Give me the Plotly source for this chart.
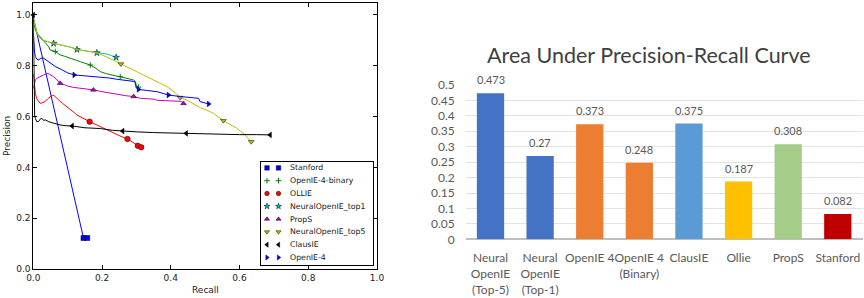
import plotly.graph_objects as go

# ---------------- Left panel data (precision-recall curves) ----------------
stanford_r = [0.0, 0.146, 0.157]
stanford_p = [0.99, 0.122, 0.122]
stanford_marks = [0.146, 0.157]

binary_r = [0.0, 0.003, 0.006, 0.011, 0.016, 0.02, 0.03, 0.04, 0.045, 0.049, 0.056, 0.064, 0.07, 0.078,
            0.09, 0.107, 0.12, 0.137, 0.15, 0.166, 0.18, 0.195, 0.21, 0.224, 0.24, 0.253, 0.27, 0.282,
            0.292, 0.297, 0.3, 0.306]
binary_p = [0.98, 0.95, 0.94, 0.928, 0.92, 0.912, 0.9, 0.882, 0.875, 0.862, 0.86, 0.856, 0.85, 0.843,
            0.838, 0.829, 0.824, 0.816, 0.81, 0.803, 0.792, 0.777, 0.77, 0.764, 0.76, 0.757, 0.752, 0.746,
            0.744, 0.738, 0.72, 0.716]
binary_marks = [0.064, 0.166, 0.253, 0.306]

ollie_r = [0.0, 0.002, 0.004, 0.006, 0.01, 0.015, 0.02, 0.028, 0.035, 0.042, 0.049, 0.055, 0.06, 0.067,
           0.074, 0.085, 0.098, 0.11, 0.12, 0.127, 0.14, 0.152, 0.164, 0.18, 0.195, 0.21, 0.224, 0.24,
           0.255, 0.274, 0.285, 0.295, 0.304, 0.31, 0.314]
ollie_p = [0.77, 0.74, 0.71, 0.692, 0.67, 0.66, 0.652, 0.655, 0.66, 0.67, 0.678, 0.684, 0.683, 0.672,
           0.665, 0.652, 0.639, 0.625, 0.615, 0.606, 0.598, 0.59, 0.58, 0.57, 0.56, 0.55, 0.541, 0.532,
           0.522, 0.512, 0.502, 0.492, 0.485, 0.481, 0.479]
ollie_marks = [0.164, 0.274, 0.304, 0.314]

top1_r = [0.0, 0.003, 0.006, 0.009, 0.011, 0.016, 0.02, 0.025, 0.03, 0.04, 0.05, 0.059, 0.08, 0.098,
          0.112, 0.127, 0.145, 0.165, 0.185, 0.2, 0.215, 0.228, 0.241]
top1_p = [0.99, 0.97, 0.96, 0.94, 0.928, 0.915, 0.908, 0.902, 0.9, 0.895, 0.891, 0.888, 0.882, 0.877,
          0.872, 0.864, 0.86, 0.855, 0.851, 0.849, 0.846, 0.84, 0.833]
top1_marks = [0.059, 0.127, 0.185, 0.241]

props_r = [0.0, 0.003, 0.006, 0.011, 0.02, 0.03, 0.04, 0.048, 0.059, 0.068, 0.078, 0.09, 0.1, 0.117,
           0.135, 0.155, 0.175, 0.2, 0.224, 0.25, 0.27, 0.292, 0.311, 0.335, 0.355, 0.36, 0.389, 0.41,
           0.432, 0.437]
props_p = [0.71, 0.73, 0.745, 0.751, 0.758, 0.764, 0.77, 0.766, 0.757, 0.745, 0.731, 0.726, 0.72, 0.715,
           0.712, 0.708, 0.705, 0.698, 0.692, 0.688, 0.682, 0.679, 0.672, 0.67, 0.668, 0.664, 0.663, 0.662,
           0.66, 0.652]
props_marks = [0.078, 0.175, 0.292, 0.437]

top5_r = [0.0, 0.003, 0.006, 0.009, 0.011, 0.016, 0.02, 0.025, 0.03, 0.04, 0.05, 0.059, 0.08, 0.098,
          0.112, 0.127, 0.145, 0.165, 0.185, 0.205, 0.224, 0.24, 0.255, 0.275, 0.292, 0.315, 0.34, 0.365,
          0.389, 0.41, 0.427, 0.447, 0.465, 0.486, 0.505, 0.524, 0.553, 0.575, 0.592, 0.605, 0.616, 0.625,
          0.634]
top5_p = [0.99, 0.97, 0.96, 0.94, 0.928, 0.915, 0.908, 0.902, 0.9, 0.895, 0.891, 0.888, 0.882, 0.877,
          0.872, 0.864, 0.86, 0.855, 0.851, 0.84, 0.829, 0.818, 0.807, 0.795, 0.783, 0.767, 0.751, 0.735,
          0.718, 0.697, 0.675, 0.665, 0.65, 0.635, 0.625, 0.613, 0.584, 0.568, 0.554, 0.54, 0.528, 0.513,
          0.501]
top5_marks = [0.255, 0.427, 0.553, 0.634]

clausie_r = [0.0, 0.001, 0.002, 0.004, 0.006, 0.01, 0.015, 0.02, 0.025, 0.03, 0.035, 0.04, 0.045, 0.052,
             0.059, 0.068, 0.078, 0.095, 0.113, 0.15, 0.195, 0.23, 0.26, 0.3, 0.35, 0.4, 0.445, 0.5, 0.55,
             0.6, 0.65, 0.689]
clausie_p = [1.0, 0.8, 0.65, 0.6, 0.593, 0.58, 0.58, 0.59, 0.593, 0.585, 0.587, 0.582, 0.58, 0.577,
             0.574, 0.57, 0.567, 0.564, 0.563, 0.556, 0.553, 0.546, 0.543, 0.54, 0.537, 0.535, 0.534, 0.531,
             0.53, 0.529, 0.529, 0.528]
clausie_marks = [0.0, 0.113, 0.26, 0.445, 0.689]

openie4_r = [0.0, 0.002, 0.004, 0.006, 0.01, 0.016, 0.022, 0.03, 0.04, 0.049, 0.056, 0.064, 0.078, 0.09,
             0.1, 0.119, 0.14, 0.156, 0.175, 0.195, 0.22, 0.243, 0.265, 0.282, 0.295, 0.3, 0.306, 0.33,
             0.36, 0.38, 0.393, 0.427, 0.46, 0.481, 0.485, 0.51]
openie4_p = [0.93, 0.88, 0.85, 0.836, 0.826, 0.823, 0.83, 0.83, 0.82, 0.81, 0.806, 0.797, 0.788, 0.778,
             0.772, 0.764, 0.762, 0.76, 0.758, 0.757, 0.752, 0.747, 0.742, 0.74, 0.738, 0.712, 0.707, 0.703,
             0.698, 0.69, 0.685, 0.679, 0.676, 0.672, 0.659, 0.65]
openie4_marks = [0.119, 0.306, 0.393, 0.51]

pr_ticks = [0.0, 0.2, 0.4, 0.6, 0.8, 1.0]
pr_tick_labels = ["0.0", "0.2", "0.4", "0.6", "0.8", "1.0"]

# ---------------- Right panel data (AUC bars) ----------------
systems = ["Neural<br>OpenIE<br>(Top-5)", "Neural<br>OpenIE<br>(Top-1)", "OpenIE 4",
           "OpenIE 4<br>(Binary)", "ClausIE", "Ollie", "PropS", "Stanford"]
auc = [0.473, 0.27, 0.373, 0.248, 0.375, 0.187, 0.308, 0.082]
auc_labels = ["0.473", "0.27", "0.373", "0.248", "0.375", "0.187", "0.308", "0.082"]
auc_ticks = [0, 0.05, 0.1, 0.15, 0.2, 0.25, 0.3, 0.35, 0.4, 0.45, 0.5]
auc_tick_labels = ["0", "0.05", "0.1", "0.15", "0.2", "0.25", "0.3", "0.35", "0.4", "0.45", "0.5"]

# ---------------- styling ----------------
W, H = 864, 298
MPL_FONT = "DejaVu Sans"
XL_FONT = "Lato"

series = [
    ("Stanford", stanford_r, stanford_p, stanford_marks, "#0000ff", "square", 5),
    ("OpenIE-4-binary", binary_r, binary_p, binary_marks, "#008000", "cross-thin", 4),
    ("OLLIE", ollie_r, ollie_p, ollie_marks, "#ff0000", "circle", 5.5),
    ("NeuralOpenIE_top1", top1_r, top1_p, top1_marks, "#00bfbf", "star", 5),
    ("PropS", props_r, props_p, props_marks, "#bf00bf", "triangle-up", 5),
    ("NeuralOpenIE_top5", top5_r, top5_p, top5_marks, "#bfbf00", "triangle-down", 5),
    ("ClausIE", clausie_r, clausie_p, clausie_marks, "#000000", "triangle-left", 5),
    ("OpenIE-4", openie4_r, openie4_p, openie4_marks, "#0000ff", "triangle-right", 5),
]


def px_x(p):
    return p / W


def px_y(p):
    return (H - p) / H


fig = go.Figure()

for name, r, p, marks, color, sym, size in series:
    fig.add_trace(go.Scatter(x=r, y=p, mode="lines", line=dict(color=color, width=1),
                             xaxis="x", yaxis="y", hoverinfo="skip", name=name))
    idx = [r.index(v) for v in marks]
    if sym == "cross-thin":
        mk = dict(symbol=sym, size=size, color=color, line=dict(color=color, width=1))
    else:
        mk = dict(symbol=sym, size=size, color=color, line=dict(color="black", width=0.5))
    fig.add_trace(go.Scatter(x=[r[i] for i in idx], y=[p[i] for i in idx], mode="markers",
                             marker=mk, xaxis="x", yaxis="y", name=name, cliponaxis=False))

# custom matplotlib-like legend (two markers per entry)
ROW0, ROWH = 5.9, 12.8
annotations = []
for i, (name, r, p, marks, color, sym, size) in enumerate(series):
    yy = ROW0 + ROWH * i
    if sym == "cross-thin":
        mk = dict(symbol=sym, size=4, color=color, line=dict(color=color, width=1))
    else:
        mk = dict(symbol=sym, size=4.5, color=color, line=dict(color="black", width=0.5))
    fig.add_trace(go.Scatter(x=[6, 17.5], y=[yy, yy], mode="markers", marker=mk,
                             xaxis="x3", yaxis="y3", hoverinfo="skip"))
    annotations.append(dict(x=27, y=yy, xref="x3", yref="y3", text=name, showarrow=False,
                            xanchor="left", yanchor="middle",
                            font=dict(family=MPL_FONT, size=7.8, color="#222")))

# bar chart
bar_colors = ["#4472C4", "#4472C4", "#ED7D31", "#ED7D31", "#5B9BD5", "#FFC000", "#A5CD87", "#C00000"]
fig.add_trace(go.Bar(x=systems, y=auc, marker=dict(color=bar_colors, line=dict(width=0)),
                     xaxis="x2", yaxis="y2", width=0.55, hoverinfo="skip"))
for s, v, lab in zip(systems, auc, auc_labels):
    annotations.append(dict(x=s, y=v, xref="x2", yref="y2", text=lab, showarrow=False,
                            yanchor="bottom", yshift=5,
                            font=dict(family=XL_FONT, size=11, color="#595959")))

annotations += [
    dict(x=px_x(649), y=px_y(55), xref="paper", yref="paper", text="Area Under Precision-Recall Curve",
         showarrow=False, xanchor="center", yanchor="middle",
         font=dict(family=XL_FONT, size=21.5, color="#404040")),
    dict(x=px_x(205), y=px_y(290), xref="paper", yref="paper", text="Recall", showarrow=False,
         xanchor="center", yanchor="middle", font=dict(family=MPL_FONT, size=9, color="#222")),
    dict(x=px_x(7), y=px_y(136), xref="paper", yref="paper", text="Precision", showarrow=False,
         xanchor="center", yanchor="middle", textangle=-90,
         font=dict(family=MPL_FONT, size=9, color="#222")),
]

mpl_axis = dict(showline=True, linecolor="black", linewidth=1, mirror="ticks", ticks="inside",
                ticklen=4, tickcolor="black", tickwidth=1, showgrid=False, zeroline=False,
                automargin=False, tickfont=dict(family=MPL_FONT, size=9, color="#222"))

fig.update_layout(
    width=W, height=H, margin=dict(l=0, r=0, t=0, b=0, pad=0, autoexpand=False),
    paper_bgcolor="white", plot_bgcolor="white", showlegend=False,
    xaxis=dict(domain=[px_x(33.3), px_x(377)], range=[0, 1], anchor="y",
               tickvals=pr_ticks, ticktext=pr_tick_labels, **mpl_axis),
    yaxis=dict(domain=[px_y(269), px_y(3.3)], range=[0, 1.046], anchor="x",
               tickvals=pr_ticks, ticktext=pr_tick_labels, **mpl_axis),
    xaxis2=dict(domain=[px_x(465.7), px_x(862.6)], anchor="y2", showline=False, ticks="",
                showgrid=False, tickangle=0, automargin=False, ticklabelstandoff=10,
                tickfont=dict(family=XL_FONT, size=12, color="#595959")),
    yaxis2=dict(domain=[px_y(239.3), px_y(85)], anchor="x2", range=[0, 0.5],
                tickvals=auc_ticks, ticktext=auc_tick_labels, showgrid=True, gridcolor="#E3E3E3",
                gridwidth=1, zeroline=True, zerolinecolor="#BFBFBF", zerolinewidth=1.5, showline=False,
                ticks="", ticklabelstandoff=10, automargin=False,
                tickfont=dict(family=XL_FONT, size=12, color="#595959")),
    xaxis3=dict(domain=[px_x(261), px_x(373)], range=[0, 112], anchor="y3", showline=True,
                linecolor="black", linewidth=1, mirror=True, showticklabels=False, ticks="",
                showgrid=False, zeroline=False, fixedrange=True, automargin=False),
    yaxis3=dict(domain=[px_y(265), px_y(162)], range=[103, 0], anchor="x3", showline=True,
                linecolor="black", linewidth=1, mirror=True, showticklabels=False, ticks="",
                showgrid=False, zeroline=False, fixedrange=True, automargin=False),
    annotations=annotations,
)

fig.write_html("out.html", config={"displayModeBar": False},
               post_script="document.body.style.margin='0px';document.body.style.overflow='hidden';")
